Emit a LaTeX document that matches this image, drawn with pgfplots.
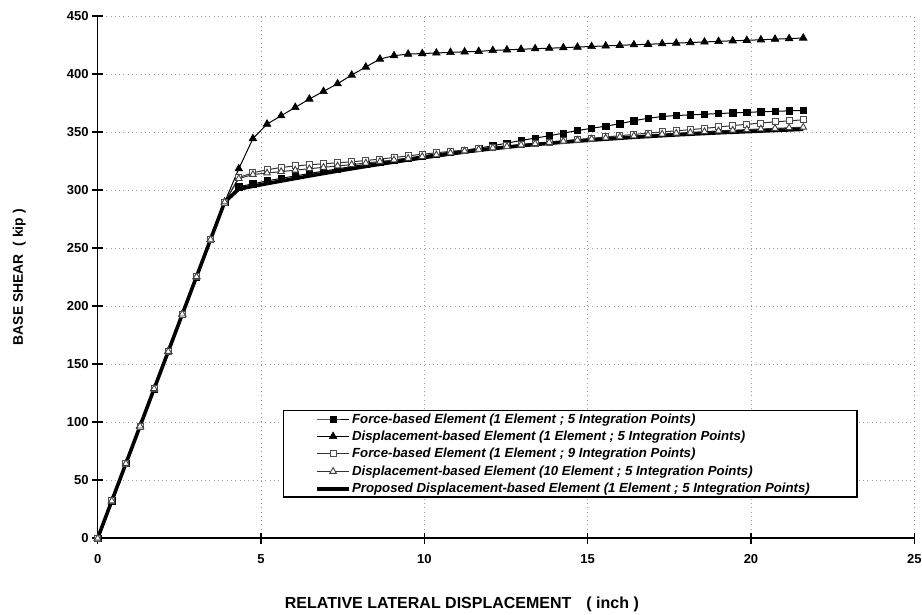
\documentclass[border=0pt]{standalone}
\usepackage{fontspec}
\setmainfont{Liberation Sans}
\usepackage{pgfplots}
\pgfplotsset{compat=1.18}
\usepackage{pgfplotstable}

\pgfplotstableread{
x A B C D E
0 0 0 0 0 0
0.432 32.2 32.2 32.2 32.2 32.2
0.864 64.4 64.4 64.4 64.4 64.4
1.296 96.6 96.6 96.6 96.6 96.6
1.728 128.8 128.8 128.8 128.8 128.8
2.160 161.0 161.0 161.0 161.0 161.0
2.592 193.2 193.2 193.2 193.2 193.2
3.024 225.4 225.4 225.4 225.4 225.4
3.456 257.6 257.6 257.6 257.6 257.6
3.888 289.8 289.8 289.8 289.8 289.8
4.320 303.0 318.5 311.0 310.0 301.0
4.752 305.5 344.5 315.0 313.5 303.4
5.184 308.0 357.0 317.6 314.8 305.7
5.616 310.2 364.2 319.6 316.0 307.9
6.048 312.3 371.4 320.9 317.3 310.1
6.480 314.4 378.6 321.9 318.5 312.3
6.912 316.4 385.2 322.8 319.7 314.4
7.344 318.4 391.8 323.6 320.9 316.5
7.776 320.4 399.3 324.5 322.1 318.5
8.208 322.3 406.2 325.6 323.4 320.5
8.640 324.2 413.1 326.8 324.7 322.4
9.072 326.0 416.0 328.2 326.1 324.3
9.504 327.8 417.3 329.6 327.5 326.1
9.936 329.6 417.8 331.0 329.0 327.9
10.368 331.3 418.3 332.3 330.5 329.6
10.800 332.8 418.8 333.5 332.1 331.3
11.232 334.4 419.3 334.6 333.8 332.9
11.664 336.3 419.7 335.8 335.2 334.4
12.096 338.3 420.5 337.0 336.5 335.8
12.528 340.6 421.0 338.2 337.8 337.1
12.960 342.9 421.5 339.3 339.0 338.3
13.392 344.9 422.0 340.4 340.1 339.4
13.824 346.9 422.4 341.5 341.2 340.4
14.256 349.2 422.9 342.6 342.2 341.4
14.688 351.4 423.4 343.7 343.2 342.3
15.120 353.4 423.9 344.8 344.2 343.2
15.552 355.2 424.4 345.9 345.1 344.0
15.984 357.3 424.9 347.0 346.0 344.8
16.416 359.9 425.4 348.1 346.8 345.6
16.848 362.0 425.8 349.2 347.6 346.3
17.280 363.5 426.3 350.2 348.4 347.0
17.712 364.4 426.8 351.2 349.1 347.7
18.144 364.9 427.3 352.2 349.8 348.3
18.576 365.5 427.8 353.3 350.5 348.9
19.008 366.1 428.3 354.5 351.1 349.5
19.440 366.6 428.8 355.7 351.7 350.0
19.872 367.1 429.2 356.8 352.3 350.5
20.304 367.6 429.7 357.9 352.8 351.0
20.736 368.0 430.2 358.9 353.3 351.5
21.168 368.4 430.7 359.8 353.8 352.0
21.600 368.8 431.2 360.7 354.3 352.5
}\data

\begin{document}
\begin{tikzpicture}
\begin{axis}[
  at={(97.7pt,75.8pt)}, anchor=south west,
  scale only axis, width=816.6pt, height=522pt,
  xmin=0, xmax=25, ymin=0, ymax=450,
  xtick={0,5,...,25}, ytick={0,50,...,450},
  axis x line=bottom, axis y line=left,
  axis line style={-, line width=1.6pt},
  tick align=center, major tick length=11pt,
  tick style={line width=1.6pt, black},
  grid=major, grid style={line width=0.9pt, gray!75, dash pattern=on 0.9pt off 3.4pt},
  ticklabel style={font=\fontsize{13}{15}\selectfont\bfseries},
  xticklabel style={yshift=-7pt},
  /pgf/number format/assume math mode=true,
  xlabel={RELATIVE LATERAL DISPLACEMENT\hspace{15pt}( inch )},
  ylabel={BASE SHEAR \ ( kip )},
  xlabel style={font=\fontsize{16}{18}\selectfont\bfseries, at={(axis description cs:0.446,-0.126)}, anchor=center},
  ylabel style={font=\fontsize{13.9}{16}\selectfont\bfseries, at={(axis description cs:-0.096,0.5)}, anchor=center},
  legend cell align=left,
  legend image code/.code={%
    \draw[mark repeat=2,mark phase=2,#1] plot coordinates {(0pt,0pt) (15.8pt,0pt) (31.6pt,0pt)};},
  legend style={at={(axis cs:5.66,34.4)}, anchor=south west,
    draw=black, line width=1.8pt, inner xsep=32pt, inner ysep=2pt,
    row sep=4.4pt, column sep=0.5pt,
    nodes={inner sep=1pt},
    font=\fontsize{13.2}{15}\selectfont\bfseries\itshape},
]
\addplot[black, line width=1pt, mark=square*, mark size=3.2pt, mark options={solid, fill=black, line width=0.6pt}] table[x=x,y=A]{\data};
\addlegendentry{Force-based Element (1 Element ; 5 Integration Points)}
\addplot[black, line width=1pt, mark=triangle*, mark size=4.4pt, mark options={solid, fill=black, line width=0.6pt}] table[x=x,y=B]{\data};
\addlegendentry{Displacement-based Element (1 Element ; 5 Integration Points)}
\addplot[black!80, line width=1pt, mark=square*, mark size=3pt, mark options={solid, fill=white, draw=black!70, line width=1pt}] table[x=x,y=C]{\data};
\addlegendentry{Force-based Element (1 Element ; 9 Integration Points)}
\addplot[black!80, line width=1pt, mark=triangle*, mark size=3.8pt, mark options={solid, fill=white, draw=black!75, line width=0.9pt}] table[x=x,y=D]{\data};
\addlegendentry{Displacement-based Element (10 Element ; 5 Integration Points)}
\addplot[black, line width=3.6pt, no marks] table[x=x,y=E]{\data};
\addlegendentry{Proposed Displacement-based Element (1 Element ; 5 Integration Points)\hspace*{14pt}}
\end{axis}
\pgfresetboundingbox
\path (0pt,0pt) rectangle (922pt,614pt);
\end{tikzpicture}
\end{document}
